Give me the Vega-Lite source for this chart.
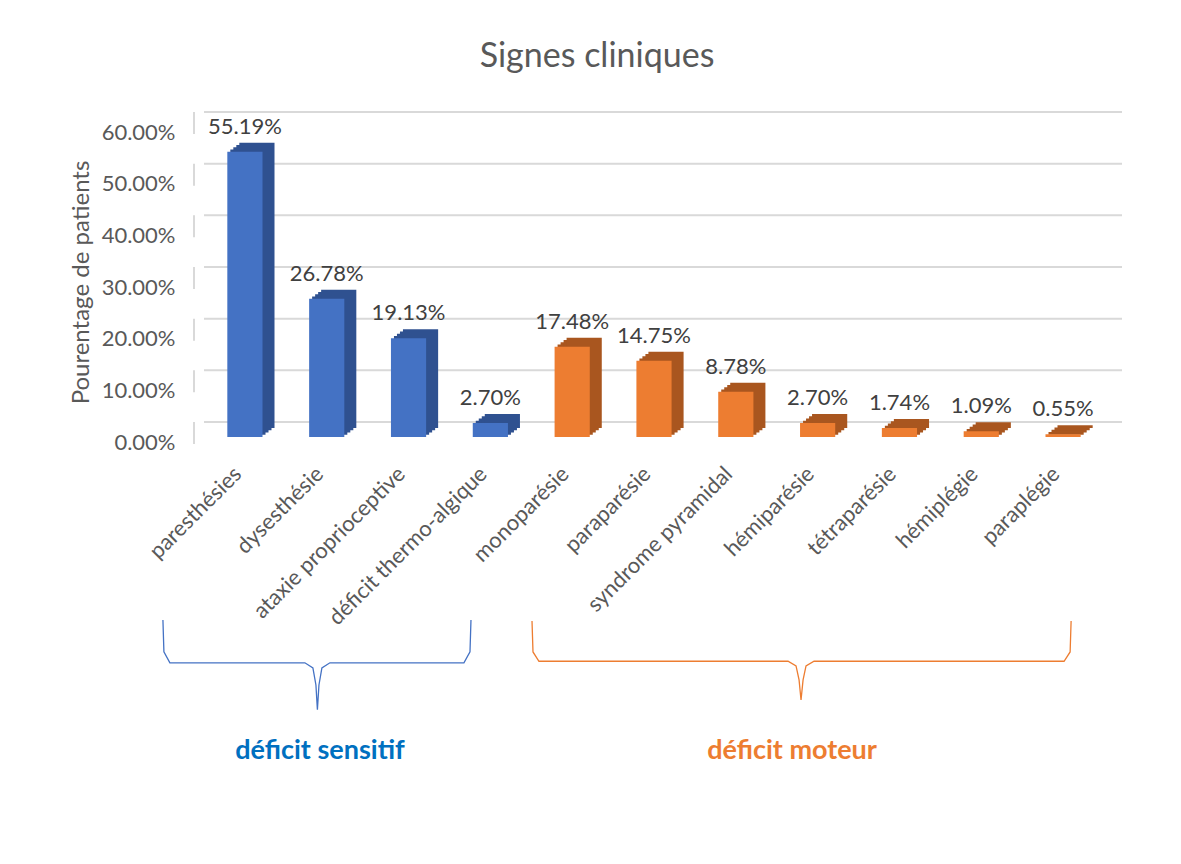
{
  "$schema": "https://vega.github.io/schema/vega-lite/v6.json",
  "autosize": "none",
  "width": 900,
  "height": 310,
  "padding": {"left": 204, "top": 127, "right": 77, "bottom": 427},
  "background": "white",
  "config": {"view": {"stroke": null}, "font": "Lato"},
  "title": {
    "text": "Signes cliniques",
    "font": "Lato",
    "fontSize": 34,
    "fontWeight": "normal",
    "color": "#595959",
    "anchor": "middle",
    "frame": "group",
    "dx": -57,
    "baseline": "alphabetic",
    "offset": 10
  },
  "datasets": {
    "signes": [
      {"signe": "paresthésies", "valeur": 0.5519, "groupe": "sensitif"},
      {"signe": "dysesthésie", "valeur": 0.2678, "groupe": "sensitif"},
      {"signe": "ataxie proprioceptive", "valeur": 0.1913, "groupe": "sensitif"},
      {"signe": "déficit thermo-algique", "valeur": 0.027, "groupe": "sensitif"},
      {"signe": "monoparésie", "valeur": 0.1748, "groupe": "moteur"},
      {"signe": "paraparésie", "valeur": 0.1475, "groupe": "moteur"},
      {"signe": "syndrome pyramidal", "valeur": 0.0878, "groupe": "moteur"},
      {"signe": "hémiparésie", "valeur": 0.027, "groupe": "moteur"},
      {"signe": "tétraparésie", "valeur": 0.0174, "groupe": "moteur"},
      {"signe": "hémiplégie", "valeur": 0.0109, "groupe": "moteur"},
      {"signe": "paraplégie", "valeur": 0.0055, "groupe": "moteur"}
    ],
    "grille": [
      {"v": 0}, {"v": 0.1}, {"v": 0.2}, {"v": 0.3}, {"v": 0.4}, {"v": 0.5}, {"v": 0.6}
    ],
    "accolades": [
      {"groupe": "sensitif", "ordre": 1, "bx": -1.002, "by": -0.354},
      {"groupe": "sensitif", "ordre": 2, "bx": -0.990, "by": -0.416},
      {"groupe": "sensitif", "ordre": 3, "bx": -0.917, "by": -0.437},
      {"groupe": "sensitif", "ordre": 4, "bx": 0.733, "by": -0.437},
      {"groupe": "sensitif", "ordre": 5, "bx": 0.831, "by": -0.447},
      {"groupe": "sensitif", "ordre": 6, "bx": 0.868, "by": -0.480},
      {"groupe": "sensitif", "ordre": 7, "bx": 0.886, "by": -0.528},
      {"groupe": "sensitif", "ordre": 8, "bx": 0.905, "by": -0.480},
      {"groupe": "sensitif", "ordre": 9, "bx": 0.941, "by": -0.447},
      {"groupe": "sensitif", "ordre": 10, "bx": 1.039, "by": -0.437},
      {"groupe": "sensitif", "ordre": 11, "bx": 2.677, "by": -0.437},
      {"groupe": "sensitif", "ordre": 12, "bx": 2.751, "by": -0.416},
      {"groupe": "sensitif", "ordre": 13, "bx": 2.763, "by": -0.354},
      {"groupe": "moteur", "ordre": 1, "bx": 3.509, "by": -0.356},
      {"groupe": "moteur", "ordre": 2, "bx": 3.521, "by": -0.416},
      {"groupe": "moteur", "ordre": 3, "bx": 3.594, "by": -0.434},
      {"groupe": "moteur", "ordre": 4, "bx": 6.638, "by": -0.434},
      {"groupe": "moteur", "ordre": 5, "bx": 6.736, "by": -0.443},
      {"groupe": "moteur", "ordre": 6, "bx": 6.773, "by": -0.470},
      {"groupe": "moteur", "ordre": 7, "bx": 6.797, "by": -0.509},
      {"groupe": "moteur", "ordre": 8, "bx": 6.822, "by": -0.470},
      {"groupe": "moteur", "ordre": 9, "bx": 6.858, "by": -0.443},
      {"groupe": "moteur", "ordre": 10, "bx": 6.956, "by": -0.434},
      {"groupe": "moteur", "ordre": 11, "bx": 10.012, "by": -0.434},
      {"groupe": "moteur", "ordre": 12, "bx": 10.086, "by": -0.416},
      {"groupe": "moteur", "ordre": 13, "bx": 10.098, "by": -0.356}
    ],
    "groupes": [
      {"groupe": "sensitif", "label": "déficit sensitif", "bx": 0.917, "by": -0.608},
      {"groupe": "moteur", "label": "déficit moteur", "bx": 6.687, "by": -0.608}
    ]
  },
  "resolve": {"scale": {"x": "independent", "y": "independent"}},
  "layer": [
    {
      "layer": [
        {
          "data": {"name": "grille"},
          "mark": {"type": "rule", "color": "#d9d9d9", "strokeWidth": 2, "xOffset": 18, "yOffset": -15},
          "encoding": {
            "y": {"field": "v", "type": "quantitative", "scale": {"domain": [0, 0.6]},
              "axis": {
                "values": [0, 0.1, 0.2, 0.3, 0.4, 0.5, 0.6],
                "format": ".2%",
                "domain": false, "ticks": false, "grid": false,
                "labelFont": "Lato", "labelFontSize": 22, "labelColor": "#595959",
                "labelPadding": 29, "labelOffset": 5,
                "title": "Pourentage de patients",
                "titleFont": "Lato", "titleFontSize": 24, "titleFontWeight": "normal",
                "titleColor": "#595959", "titlePadding": 8
              }
            }
          }
        },
        {
          "data": {"name": "grille"},
          "mark": {"type": "rule", "color": "#d9d9d9", "strokeWidth": 2, "x": -10, "x2": 18, "yOffset": 7, "y2Offset": -15},
          "encoding": {
            "y": {"field": "v", "type": "quantitative"},
            "y2": {"field": "v"}
          }
        },
        {
          "data": {"name": "signes"},
          "layer": [
            {
              "mark": {"type": "bar", "width": {"band": 0.43}, "xOffset": 3, "yOffset": -2.25},
              "encoding": {
                "color": {"condition": {"test": "datum.groupe === 'sensitif'", "value": "#2f5190"}, "value": "#a9561f"}
              }
            },
            {
              "mark": {"type": "bar", "width": {"band": 0.43}, "xOffset": 6, "yOffset": -4.5},
              "encoding": {
                "color": {"condition": {"test": "datum.groupe === 'sensitif'", "value": "#2f5190"}, "value": "#a9561f"}
              }
            },
            {
              "mark": {"type": "bar", "width": {"band": 0.43}, "xOffset": 9, "yOffset": -6.75},
              "encoding": {
                "color": {"condition": {"test": "datum.groupe === 'sensitif'", "value": "#2f5190"}, "value": "#a9561f"}
              }
            },
            {
              "mark": {"type": "bar", "width": {"band": 0.43}, "xOffset": 12, "yOffset": -9},
              "encoding": {
                "color": {"condition": {"test": "datum.groupe === 'sensitif'", "value": "#2f5190"}, "value": "#a9561f"}
              }
            },
            {
              "mark": {"type": "bar", "width": {"band": 0.43}},
              "encoding": {
                "color": {"condition": {"test": "datum.groupe === 'sensitif'", "value": "#4472c4"}, "value": "#ed7d31"}
              }
            },
            {
              "mark": {"type": "text", "baseline": "alphabetic", "dy": -18, "font": "Lato", "fontSize": 22, "color": "#404040"},
              "encoding": {
                "text": {"field": "valeur", "type": "quantitative", "format": ".2%"}
              }
            }
          ],
          "encoding": {
            "x": {"field": "signe", "type": "nominal", "sort": null,
              "scale": {"paddingInner": 0, "paddingOuter": 0},
              "axis": {
                "title": null, "domain": false, "ticks": false,
                "labelAngle": -45, "labelAlign": "right", "labelBaseline": "middle",
                "labelFont": "Lato", "labelFontSize": 22, "labelLimit": 0,
                "labelColor": "#595959", "labelPadding": 33, "labelOffset": -7
              }
            },
            "y": {"field": "valeur", "type": "quantitative"}
          }
        }
      ]
    },
    {
      "layer": [
        {
          "data": {"name": "accolades"},
          "mark": {"type": "line", "strokeWidth": 1.3, "clip": false, "interpolate": "linear"},
          "encoding": {
            "x": {"field": "bx", "type": "quantitative", "scale": {"domain": [-0.5, 10.5], "nice": false, "zero": false}, "axis": null},
            "y": {"field": "by", "type": "quantitative", "scale": {"domain": [0, 0.6], "nice": false, "zero": false}, "axis": null},
            "detail": {"field": "groupe"},
            "order": {"field": "ordre", "type": "quantitative"},
            "color": {"condition": {"test": "datum.groupe === 'sensitif'", "value": "#4472c4"}, "value": "#ed7d31"}
          }
        },
        {
          "data": {"name": "groupes"},
          "mark": {"type": "text", "clip": false, "font": "Lato", "fontSize": 27, "fontWeight": "bold", "baseline": "middle"},
          "encoding": {
            "x": {"field": "bx", "type": "quantitative"},
            "y": {"field": "by", "type": "quantitative"},
            "text": {"field": "label"},
            "color": {"condition": {"test": "datum.groupe === 'sensitif'", "value": "#0070c0"}, "value": "#ed7d31"}
          }
        }
      ]
    }
  ]
}
